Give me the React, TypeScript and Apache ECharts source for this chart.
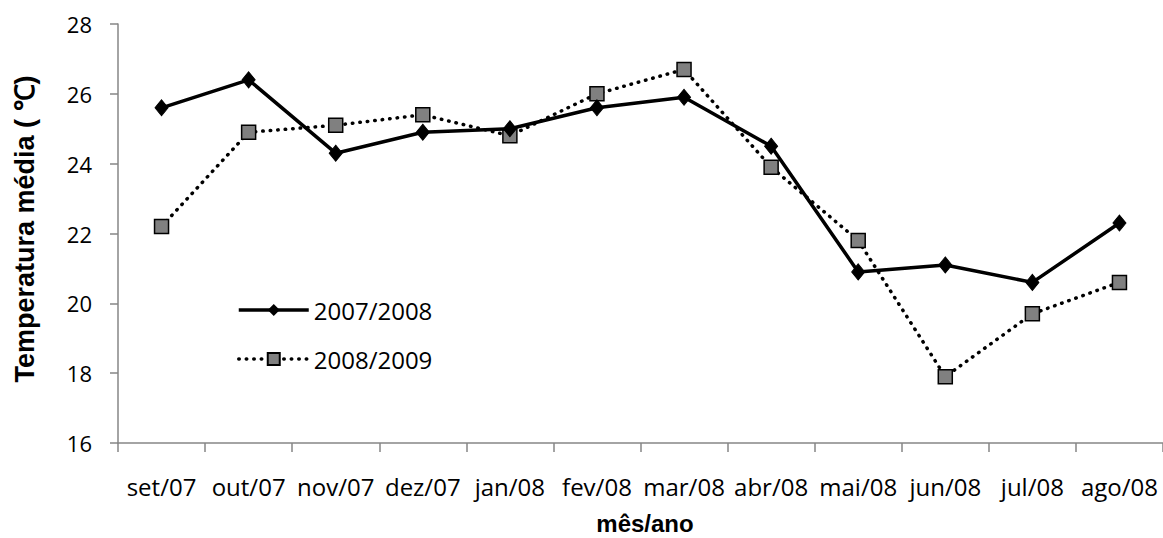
import React, { useEffect, useRef } from "react";
import * as echarts from "echarts";

const categories = ["set/07", "out/07", "nov/07", "dez/07", "jan/08", "fev/08", "mar/08", "abr/08", "mai/08", "jun/08", "jul/08", "ago/08"];
const serie2007 = [25.6, 26.4, 24.3, 24.9, 25.0, 25.6, 25.9, 24.5, 20.9, 21.1, 20.6, 22.3];
const serie2008 = [22.2, 24.9, 25.1, 25.4, 24.8, 26.0, 26.7, 23.9, 21.8, 17.9, 19.7, 20.6];
const seriesNames = ["2007/2008", "2008/2009"];
const yMin = 16;
const yMax = 28;
const yStep = 2;

const LABEL_FONT = "'Open Sans', sans-serif";
const TITLE_FONT = "'Liberation Sans', Arial, sans-serif";
const DOTS: number[] = [0.5, 7];

export default function App() {
  const ref = useRef<HTMLDivElement>(null);
  useEffect(() => {
    document.body.style.margin = "0";
    const chart = echarts.init(ref.current!, null, { renderer: "svg" });
    chart.setOption({
      animation: false,
      backgroundColor: "#ffffff",
      grid: { left: 118, right: -3, top: 24, bottom: 95, containLabel: false },
      legend: {
        orient: "vertical",
        left: 232,
        top: 293,
        itemWidth: 70,
        itemHeight: 15,
        itemGap: 25,
        textStyle: { fontFamily: LABEL_FONT, fontSize: 24, color: "#000" },
        data: [
          { name: seriesNames[0], lineStyle: { width: 3.5, color: "#000" } },
          { name: seriesNames[1], lineStyle: { width: 3.5, color: "#000", type: DOTS, cap: "round" } },
        ],
      },
      xAxis: {
        type: "category",
        data: categories,
        boundaryGap: true,
        axisLine: { lineStyle: { color: "#868686", width: 1.5 } },
        axisTick: { show: true, length: 9, alignWithLabel: false, lineStyle: { color: "#868686", width: 1.5 } },
        axisLabel: { interval: 0, hideOverlap: false, fontFamily: LABEL_FONT, fontSize: 24, color: "#000", margin: 31 },
        splitLine: { show: false },
      },
      yAxis: {
        type: "value",
        min: yMin,
        max: yMax,
        interval: yStep,
        axisLine: { show: true, lineStyle: { color: "#868686", width: 1.5 } },
        axisTick: { show: true, length: 8, lineStyle: { color: "#868686", width: 1.5 } },
        axisLabel: { fontFamily: LABEL_FONT, fontSize: 22, color: "#000", margin: 26 },
        splitLine: { show: false },
      },
      graphic: [
        {
          type: "text",
          x: 25,
          y: 229,
          rotation: Math.PI / 2,
          style: {
            text: "Temperatura média ( ℃)",
            fontFamily: TITLE_FONT,
            fontWeight: "bold",
            fontSize: 27,
            fill: "#000",
            textAlign: "center",
            textVerticalAlign: "middle",
          },
        },
        {
          type: "text",
          x: 645,
          y: 523,
          style: {
            text: "mês/ano",
            fontFamily: TITLE_FONT,
            fontWeight: "bold",
            fontSize: 24,
            fill: "#000",
            textAlign: "center",
            textVerticalAlign: "middle",
          },
        },
      ],
      series: [
        {
          name: seriesNames[0],
          type: "line",
          data: serie2007,
          symbol: "diamond",
          symbolSize: [13, 16],
          itemStyle: { color: "#000", borderColor: "#000" },
          lineStyle: { color: "#000", width: 3.5, type: "solid" },
          z: 3,
        },
        {
          name: seriesNames[1],
          type: "line",
          data: serie2008,
          symbol: "rect",
          symbolSize: 14,
          itemStyle: { color: "#808080", borderColor: "#000", borderWidth: 1.5 },
          lineStyle: { color: "#000", width: 3.5, type: DOTS, cap: "round" },
          z: 2,
        },
      ],
    });
    return () => chart.dispose();
  }, []);
  return <div ref={ref} style={{ width: 1163, height: 538 }} />;
}
